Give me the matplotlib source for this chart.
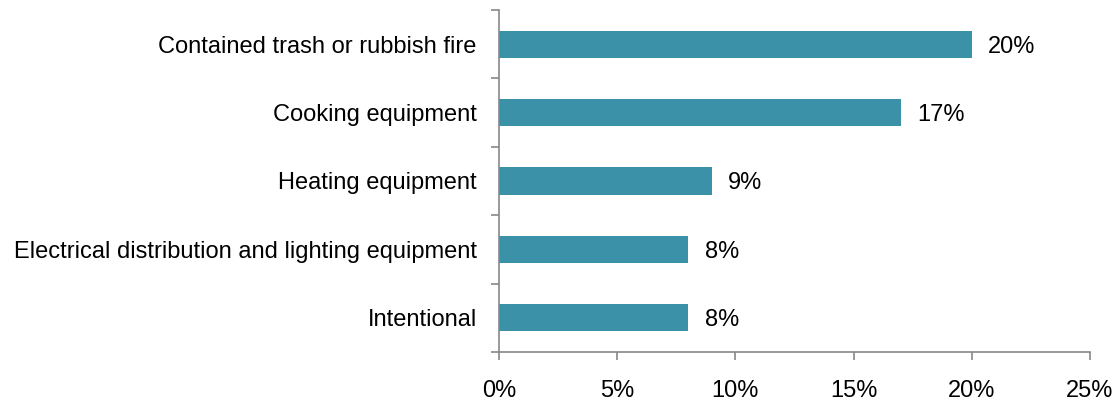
import matplotlib
matplotlib.use("Agg")
import matplotlib.pyplot as plt
import numpy as np

plt.rcParams['font.family'] = ['Liberation Sans', 'DejaVu Sans']

categories = [
    "Contained trash or rubbish fire",
    "Cooking equipment",
    "Heating equipment",
    "Electrical distribution and lighting equipment",
    "Intentional",
]
shares = [20, 17, 9, 8, 8]
xticks = [0, 5, 10, 15, 20, 25]

fig = plt.figure(figsize=(11.2, 4.03), dpi=100)
ax = fig.add_axes([0.4455, 0.1266, 0.5277, 0.8486])

y = np.arange(len(categories))[::-1]
ax.barh(y, shares, height=0.4, color="#3A91A8")
for yi, v in zip(y, shares):
    ax.text(v + 0.7, yi, f"{v}%", va="center_baseline", ha="left", fontsize=17, color="black")

ax.set_xlim(0, 25)
ax.set_ylim(-0.5, len(categories) - 0.5)
ax.set_xticks(xticks)
ax.set_xticklabels([f"{t}%" for t in xticks], fontsize=17)
ax.set_yticks(y)
ax.set_yticklabels(categories, fontsize=17)

# y ticks sit between categories, labels centred on the bars
ax.set_yticks(np.arange(-0.5, len(categories)), minor=True)
ax.tick_params(axis="y", which="major", length=0, pad=16)
ax.tick_params(axis="y", which="minor", length=6, color="#888888", width=1.2)
ax.tick_params(axis="x", length=6, color="#888888", width=1.2, pad=14)

for s in ["top", "right"]:
    ax.spines[s].set_visible(False)
for s in ["left", "bottom"]:
    ax.spines[s].set_color("#888888")
    ax.spines[s].set_linewidth(1.2)

fig.savefig("out.png", dpi=100)
